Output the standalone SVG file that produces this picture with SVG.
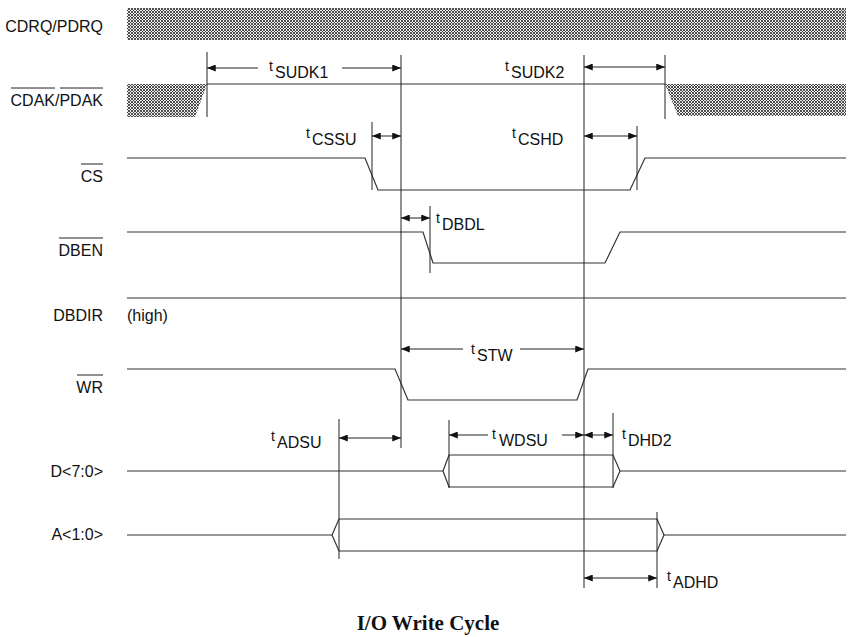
<svg xmlns="http://www.w3.org/2000/svg" width="849" height="637" viewBox="0 0 849 637">
<style>
  .lbl{font-family:"Liberation Sans",Arial,sans-serif;font-size:16px;fill:#111;}
  .end{text-anchor:end;}
  .t{font-family:"Liberation Sans",Arial,sans-serif;font-size:14px;fill:#111;}
  .sub{font-family:"Liberation Sans",Arial,sans-serif;font-size:16px;fill:#111;}
  .sig{fill:none;stroke:#333;stroke-width:1.2;}
  .ov{stroke:#222;stroke-width:1;}
  .ref{fill:none;stroke:#222;stroke-width:1;}
  .arr{fill:none;stroke:#222;stroke-width:1;marker-end:url(#ah);}
  .arr2{fill:none;stroke:#222;stroke-width:1;marker-end:url(#ah);marker-start:url(#ah);}
  .hatch{fill:url(#xh);}
  .title{font-family:"Liberation Serif","Times New Roman",serif;font-weight:bold;font-size:21px;fill:#111;text-anchor:middle;}
</style>
<defs>
  <pattern id="xh" width="3" height="3" patternUnits="userSpaceOnUse">
    <rect width="3" height="3" fill="#eeeeee"/>
    <path d="M0,0 L3,3 M3,0 L0,3" stroke="#333" stroke-width="0.85"/>
  </pattern>
  <marker id="ah" viewBox="0 0 10 8" refX="10" refY="4" markerWidth="9" markerHeight="7" markerUnits="userSpaceOnUse" orient="auto-start-reverse">
    <path d="M0,0 L10,4 L0,8 Z" fill="#111"/>
  </marker>
</defs>
<rect width="849" height="637" fill="#fff"/>

<g id="cdrq">
  <text class="lbl end" x="103" y="32">CDRQ/PDRQ</text>
  <rect class="hatch" x="127" y="8" width="719" height="32"/>
</g>

<g id="cdak">
  <text class="lbl end" x="103" y="106">CDAK/PDAK</text>
  <line class="ov" x1="11" y1="88" x2="55" y2="88"/>
  <line class="ov" x1="60" y1="88" x2="103" y2="88"/>
  <polygon class="hatch" points="127,84 207,84 195,117 127,117"/>
  <polygon class="hatch" points="665,84 846,84 846,116 678,116"/>
  <path class="sig" d="M207,84 H665"/>
</g>

<g id="cs">
  <text class="lbl end" x="103" y="182">CS</text>
  <line class="ov" x1="81" y1="164" x2="103" y2="164"/>
  <path class="sig" d="M127,158 H365 L378,190 H630 L645,158 H846"/>
</g>

<g id="dben">
  <text class="lbl end" x="103" y="256">DBEN</text>
  <line class="ov" x1="59" y1="238" x2="103" y2="238"/>
  <path class="sig" d="M127,232 H423 L433,263 H605 L620,232 H846"/>
</g>

<g id="dbdir">
  <text class="lbl end" x="103" y="321">DBDIR</text>
  <text class="lbl" x="127" y="321">(high)</text>
  <path class="sig" d="M127,298 H846"/>
</g>

<g id="wr">
  <text class="lbl end" x="103" y="393">WR</text>
  <line class="ov" x1="77" y1="375" x2="103" y2="375"/>
  <path class="sig" d="M127,369 H395 L408,400 H577 L588,369 H846"/>
</g>

<g id="data">
  <text class="lbl end" x="103" y="477">D&lt;7:0&gt;</text>
  <path class="sig" d="M127,471 H443 M620,471 H846"/>
  <path class="sig" d="M443,471 L449,455 H613 L620,471 L613,487 H449 Z"/>
</g>

<g id="addr">
  <text class="lbl end" x="103" y="540">A&lt;1:0&gt;</text>
  <path class="sig" d="M127,535 H332 M664,535 H846"/>
  <path class="sig" d="M332,535 L339,519 H657 L664,535 L657,551 H339 Z"/>
</g>

<g id="connectors">
  <path class="ref" d="M207,52 V117 M401,55 V448 M584,55 V588 M665,55 V119 M372,122 V190 M637,126 V190 M430,206 V273 M339,419 V559 M449,420 V488 M613,413 V488 M657,512 V588"/>
  <path class="arr" d="M258,68 H207"/>
  <path class="arr" d="M342,68 H401"/>
  <path class="arr2" d="M584,67 H665"/>
  <path class="arr2" d="M372,136 H401"/>
  <path class="arr2" d="M584,136 H637"/>
  <path class="arr2" d="M401,218 H430"/>
  <path class="arr" d="M463,349 H401"/>
  <path class="arr" d="M520,349 H584"/>
  <path class="arr2" d="M339,438 H401"/>
  <path class="arr" d="M488,435 H449"/>
  <path class="arr" d="M562,435 H584"/>
  <path class="arr2" d="M584,435 H613"/>
  <path class="arr2" d="M584,578 H657"/>
</g>

<g id="timing-labels">
  <text class="t" x="269" y="71">t</text><text class="sub" x="275" y="78">SUDK1</text>
  <text class="t" x="505" y="71">t</text><text class="sub" x="511" y="78">SUDK2</text>
  <text class="t" x="306" y="138">t</text><text class="sub" x="312" y="145">CSSU</text>
  <text class="t" x="512" y="138">t</text><text class="sub" x="518" y="145">CSHD</text>
  <text class="t" x="436" y="223">t</text><text class="sub" x="442" y="230">DBDL</text>
  <text class="t" x="471" y="354">t</text><text class="sub" x="477" y="361">STW</text>
  <text class="t" x="271" y="441">t</text><text class="sub" x="277" y="448">ADSU</text>
  <text class="t" x="492" y="439">t</text><text class="sub" x="499" y="446">WDSU</text>
  <text class="t" x="622" y="439">t</text><text class="sub" x="628" y="446">DHD2</text>
  <text class="t" x="667" y="581">t</text><text class="sub" x="673" y="588">ADHD</text>
</g>

<text class="title" x="428" y="630">I/O Write Cycle</text>
</svg>
